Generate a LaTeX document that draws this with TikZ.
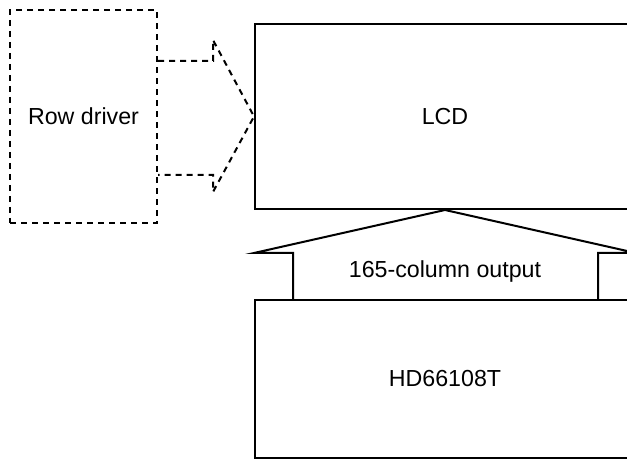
\documentclass[tikz,border=0pt]{standalone}
\usepackage{fontspec}
\setmainfont{Liberation Sans}
\usetikzlibrary{positioning}

\begin{document}
\begin{tikzpicture}[x=0.5pt,y=-0.5pt,line width=1pt,
    every node/.style={font=\fontsize{11.6}{14}\selectfont},
    blockbox/.style={draw,rectangle,inner sep=0pt},
    dashbox/.style={dash pattern=on 3pt off 2.5pt}]
  \useasboundingbox (0,0) rectangle (627,459);
  \clip (0,0) rectangle (627,459);
  % boxes
  \node[blockbox,dashbox,minimum width=73.5pt,minimum height=106.5pt] (row) at (83.5,116.5) {Row driver};
  \node[blockbox,minimum width=190pt,minimum height=92.5pt] (lcd) at (445,116.5) {LCD};
  \node[blockbox,minimum width=190pt,minimum height=79pt] (chip) at (445,379) {HD66108T};
  % row driver -> LCD
  \draw[dashbox] (row.east |- 0,61) -- (213,61) -- (213,40) -- (lcd.west)
    -- (213,192) -- (213,175) -- (row.east |- 0,175);
  % chip -> LCD
  \draw (293,0 |- chip.north) -- (293,253) -- (lcd.south west |- 0,253) -- (lcd.south)
    -- (lcd.south east |- 0,253) -- (598,253) -- (598,0 |- chip.north);
  \node (out) at (445,272) {165-column output};
\end{tikzpicture}
\end{document}
